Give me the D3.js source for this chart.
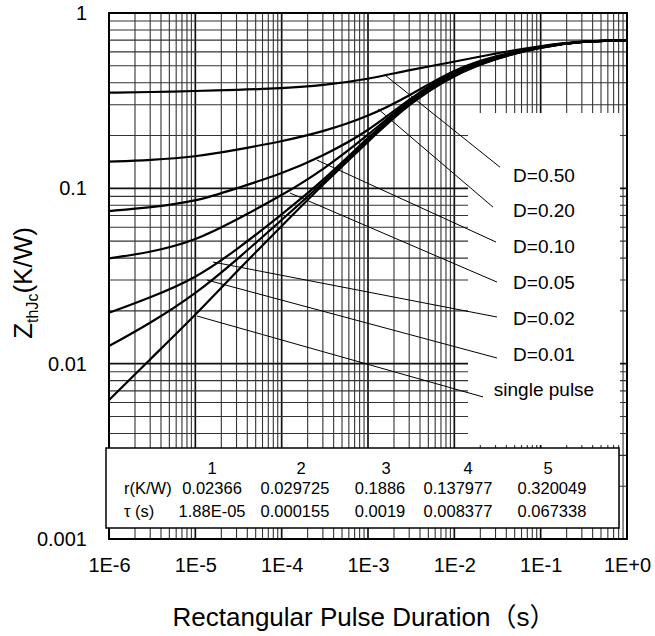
<!DOCTYPE html>
<html>
<head>
<style>
  body {
    margin: 0;
    background-color: #fff;
  }
  text {
    font-family: "Liberation Sans", Arial, "Noto Sans CJK SC", sans-serif;
    fill: #000;
  }
</style>
<script src="https://d3js.org/d3.v7.min.js"></script>
</head>
<body>
<script>
// transient thermal impedance

const durations = [1e-6, 3e-6, 1e-5, 3e-5, 1e-4, 3e-4, 1e-3, 3e-3, 1e-2, 3e-2, 1e-1, 3e-1, 1];

const zD50 = [0.351, 0.354, 0.359, 0.364, 0.372, 0.386, 0.419, 0.473, 0.527, 0.589, 0.65, 0.692, 0.70];
const zD20 = [0.142, 0.145, 0.151, 0.166, 0.185, 0.21, 0.256, 0.336, 0.48, 0.57, 0.647, 0.69, 0.70];
const zD10 = [0.0742, 0.0778, 0.0839, 0.100, 0.121, 0.153, 0.21, 0.326, 0.47, 0.565, 0.645, 0.69, 0.70];
const zD05 = [0.0399, 0.0431, 0.0502, 0.0662, 0.091, 0.127, 0.201, 0.319, 0.46, 0.56, 0.643, 0.69, 0.70];
const zD02 = [0.0195, 0.0238, 0.0306, 0.0445, 0.071, 0.11, 0.195, 0.315, 0.455, 0.556, 0.642, 0.69, 0.70];
const zD01 = [0.0126, 0.0170, 0.0249, 0.039, 0.066, 0.107, 0.19, 0.311, 0.45, 0.553, 0.641, 0.69, 0.70];
const zSingle = [0.0062, 0.0106, 0.0189, 0.0335, 0.061, 0.105, 0.185, 0.305, 0.445, 0.55, 0.64, 0.69, 0.70];

const seriesNames = ['D=0.50', 'D=0.20', 'D=0.10', 'D=0.05', 'D=0.02', 'D=0.01', 'single pulse'];
const seriesValues = [zD50, zD20, zD10, zD05, zD02, zD01, zSingle];

// leader lines: [t, Z] on the curve -> [t, Z] next to the label
const leaderFrom = [[1.57e-3, 0.443], [1.31e-3, 0.2835], [2.56e-4, 0.145], [1.25e-4, 0.094], [1.6e-5, 0.038], [1.36e-5, 0.030], [1.045e-5, 0.0187]];
const leaderTo = [[0.0338, 0.132], [0.028, 0.0782], [0.0304, 0.0494], [0.0312, 0.0292], [0.0312, 0.01845], [0.0312, 0.01077], [0.0215, 0.00646]];

const xTickValues = [1e-6, 1e-5, 1e-4, 1e-3, 1e-2, 1e-1, 1];
const xTickLabels = ['1E-6', '1E-5', '1E-4', '1E-3', '1E-2', '1E-1', '1E+0'];
const yTickValues = [0.001, 0.01, 0.1, 1];
const yTickLabels = ['0.001', '0.01', '0.1', '1'];

// Foster network table
const tableHeader = ['1', '2', '3', '4', '5'];
const rValues = ['0.02366', '0.029725', '0.1886', '0.137977', '0.320049'];
const tauValues = ['1.88E-05', '0.000155', '0.0019', '0.008377', '0.067338'];

const width = 655;
const height = 636;
const plot = { left: 109, right: 627, top: 13, bottom: 539 };

const svg = d3.select('body')
  .append('svg')
  .attr('width', width)
  .attr('height', height);

const x = d3.scaleLog().domain([1e-6, 1]).range([plot.left, plot.right]);
const y = d3.scaleLog().domain([0.001, 1]).range([plot.bottom, plot.top]);

const isDecade = v => Math.abs(Math.log10(v) - Math.round(Math.log10(v))) < 1e-9;

// grid
const grid = svg.append('g');
grid.selectAll('.vgrid')
  .data(x.ticks())
  .join('line')
  .attr('x1', d => x(d))
  .attr('x2', d => x(d))
  .attr('y1', plot.top)
  .attr('y2', plot.bottom)
  .attr('stroke', d => isDecade(d) ? '#111' : '#333')
  .attr('stroke-width', d => isDecade(d) ? 1.7 : 1.1);

grid.selectAll('.hgrid')
  .data(y.ticks())
  .join('line')
  .attr('y1', d => y(d))
  .attr('y2', d => y(d))
  .attr('x1', plot.left)
  .attr('x2', plot.right)
  .attr('stroke', d => isDecade(d) ? '#111' : '#333')
  .attr('stroke-width', d => isDecade(d) ? 1.7 : 1.1);

// white area behind the labels
svg.append('rect')
  .attr('x', 468)
  .attr('y', 113)
  .attr('width', 152)
  .attr('height', 332)
  .attr('fill', '#fff');

// curves
const line = d3.line()
  .x(d => x(d[0]))
  .y(d => y(d[1]))
  .curve(d3.curveBasis);

seriesValues.forEach(values => {
  svg.append('path')
    .datum(durations.map((t, i) => [t, values[i]]))
    .attr('d', line)
    .attr('fill', 'none')
    .attr('stroke', '#000')
    .attr('stroke-width', 2.2);
});

// frame
svg.append('rect')
  .attr('x', plot.left)
  .attr('y', plot.top)
  .attr('width', plot.right - plot.left)
  .attr('height', plot.bottom - plot.top)
  .attr('fill', 'none')
  .attr('stroke', '#000')
  .attr('stroke-width', 2);

// leaders and labels
leaderFrom.forEach((p, i) => {
  svg.append('line')
    .attr('x1', x(p[0]))
    .attr('y1', y(p[1]))
    .attr('x2', x(leaderTo[i][0]))
    .attr('y2', y(leaderTo[i][1]))
    .attr('stroke', '#000')
    .attr('stroke-width', 1);
});

const labelBaselines = [182, 217, 253, 289, 325, 361, 396];
seriesNames.forEach((name, i) => {
  svg.append('text')
    .attr('x', 544)
    .attr('y', labelBaselines[i])
    .attr('text-anchor', 'middle')
    .style('font-size', '19px')
    .text(name);
});

// axes labels
const xAxis = svg.append('g')
  .attr('transform', `translate(0,${plot.bottom})`)
  .call(d3.axisBottom(x)
    .tickValues(xTickValues)
    .tickFormat((d, i) => xTickLabels[i])
    .tickSize(0)
    .tickPadding(19));
xAxis.select('.domain').remove();
xAxis.selectAll('text')
  .style('font-size', '20px')
  .attr('font-family', null);

const yAxis = svg.append('g')
  .attr('transform', `translate(${plot.left},0)`)
  .call(d3.axisLeft(y)
    .tickValues(yTickValues)
    .tickFormat((d, i) => yTickLabels[i])
    .tickSize(0)
    .tickPadding(22));
yAxis.select('.domain').remove();
yAxis.selectAll('text')
  .style('font-size', '20px')
  .attr('font-family', null);

// table
const table = svg.append('g');
table.append('rect')
  .attr('x', 106)
  .attr('y', 448)
  .attr('width', 513)
  .attr('height', 80)
  .attr('fill', '#fff')
  .attr('stroke', '#000')
  .attr('stroke-width', 1.5);

const headerX = [212, 301, 386, 468, 548];
const valueX = [212, 295, 380, 458, 552];
tableHeader.forEach((h, i) => {
  table.append('text').attr('x', headerX[i]).attr('y', 474)
    .attr('text-anchor', 'middle').style('font-size', '16.5px').text(h);
  table.append('text').attr('x', valueX[i]).attr('y', 494)
    .attr('text-anchor', 'middle').style('font-size', '16.5px').text(rValues[i]);
  table.append('text').attr('x', valueX[i]).attr('y', 517)
    .attr('text-anchor', 'middle').style('font-size', '16.5px').text(tauValues[i]);
});
table.append('text').attr('x', 124).attr('y', 494)
  .style('font-size', '16.5px').text('r(K/W)');
table.append('text').attr('x', 124).attr('y', 517)
  .style('font-size', '16.5px').text('τ (s)');

// titles
svg.append('text')
  .attr('x', 364)
  .attr('y', 626)
  .attr('text-anchor', 'middle')
  .style('font-size', '26px')
  .text('Rectangular Pulse Duration（s）');

const yTitle = svg.append('text')
  .attr('transform', 'translate(32,283) rotate(-90)')
  .attr('text-anchor', 'middle')
  .style('font-size', '26px');
yTitle.append('tspan').text('Z');
yTitle.append('tspan').attr('dy', 6).style('font-size', '16px').text('thJc');
yTitle.append('tspan').attr('dy', -6).text('(K/W)');
</script>
</body>
</html>
